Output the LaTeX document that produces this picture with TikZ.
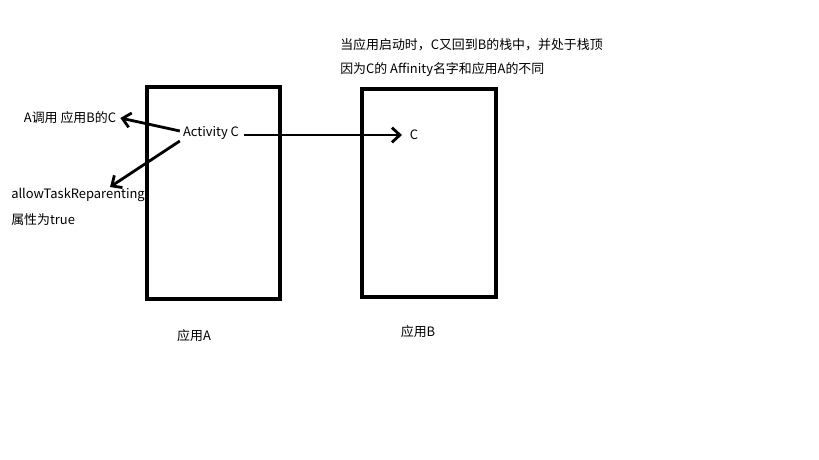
\documentclass[tikz,border=0pt]{standalone}
\usepackage{fontspec}
\setmainfont{Noto Sans CJK SC}
\usetikzlibrary{arrows.meta}
\begin{document}
\begin{tikzpicture}[x=0.75pt,y=-0.75pt,
  appbox/.style={draw=black,line width=3.6pt},
  lbl/.style={inner sep=0pt,font=\fontsize{9.7pt}{11pt}\selectfont},
  arr/.style={draw=black,line width=2.1pt,-{Straight Barb[length=6pt,width=11pt,line width=2.1pt]}}]
\useasboundingbox (0,0) rectangle (819,460);
\fill[white] (0,0) rectangle (819,460);
\draw[appbox] (147,87) rectangle (280,299);
\draw[appbox] (362,89) rectangle (496,297);
\node[lbl] (act) at (211,133) {Activity C};
\node[lbl] (c) at (414,135) {C};
\node[lbl] (call) at (70,118) {A调用 应用B的C};
\node[lbl,anchor=west] (allow) at (11,195) {allowTaskReparenting};
\node[lbl,anchor=west] (attr) at (11,220) {属性为true};
\node[lbl,anchor=west] (top1) at (340,45) {当应用启动时，C又回到B的栈中，并处于栈顶};
\node[lbl,anchor=west] (top2) at (340,70) {因为C的 Affinity名字和应用A的不同};
\node[lbl] (appA) at (194,336) {应用A};
\node[lbl] (appB) at (418,332) {应用B};
\coordinate (allowtip) at (110,187);
\coordinate (cend) at (402,135);
\draw[arr] (act.east) ++(5,2) -- (cend);
\draw[arr] (act.west) ++(-3,-2) -- ([xshift=3pt]call.east);
\draw[arr] (act.west) ++(-3,8) -- (allowtip);
\end{tikzpicture}
\end{document}
